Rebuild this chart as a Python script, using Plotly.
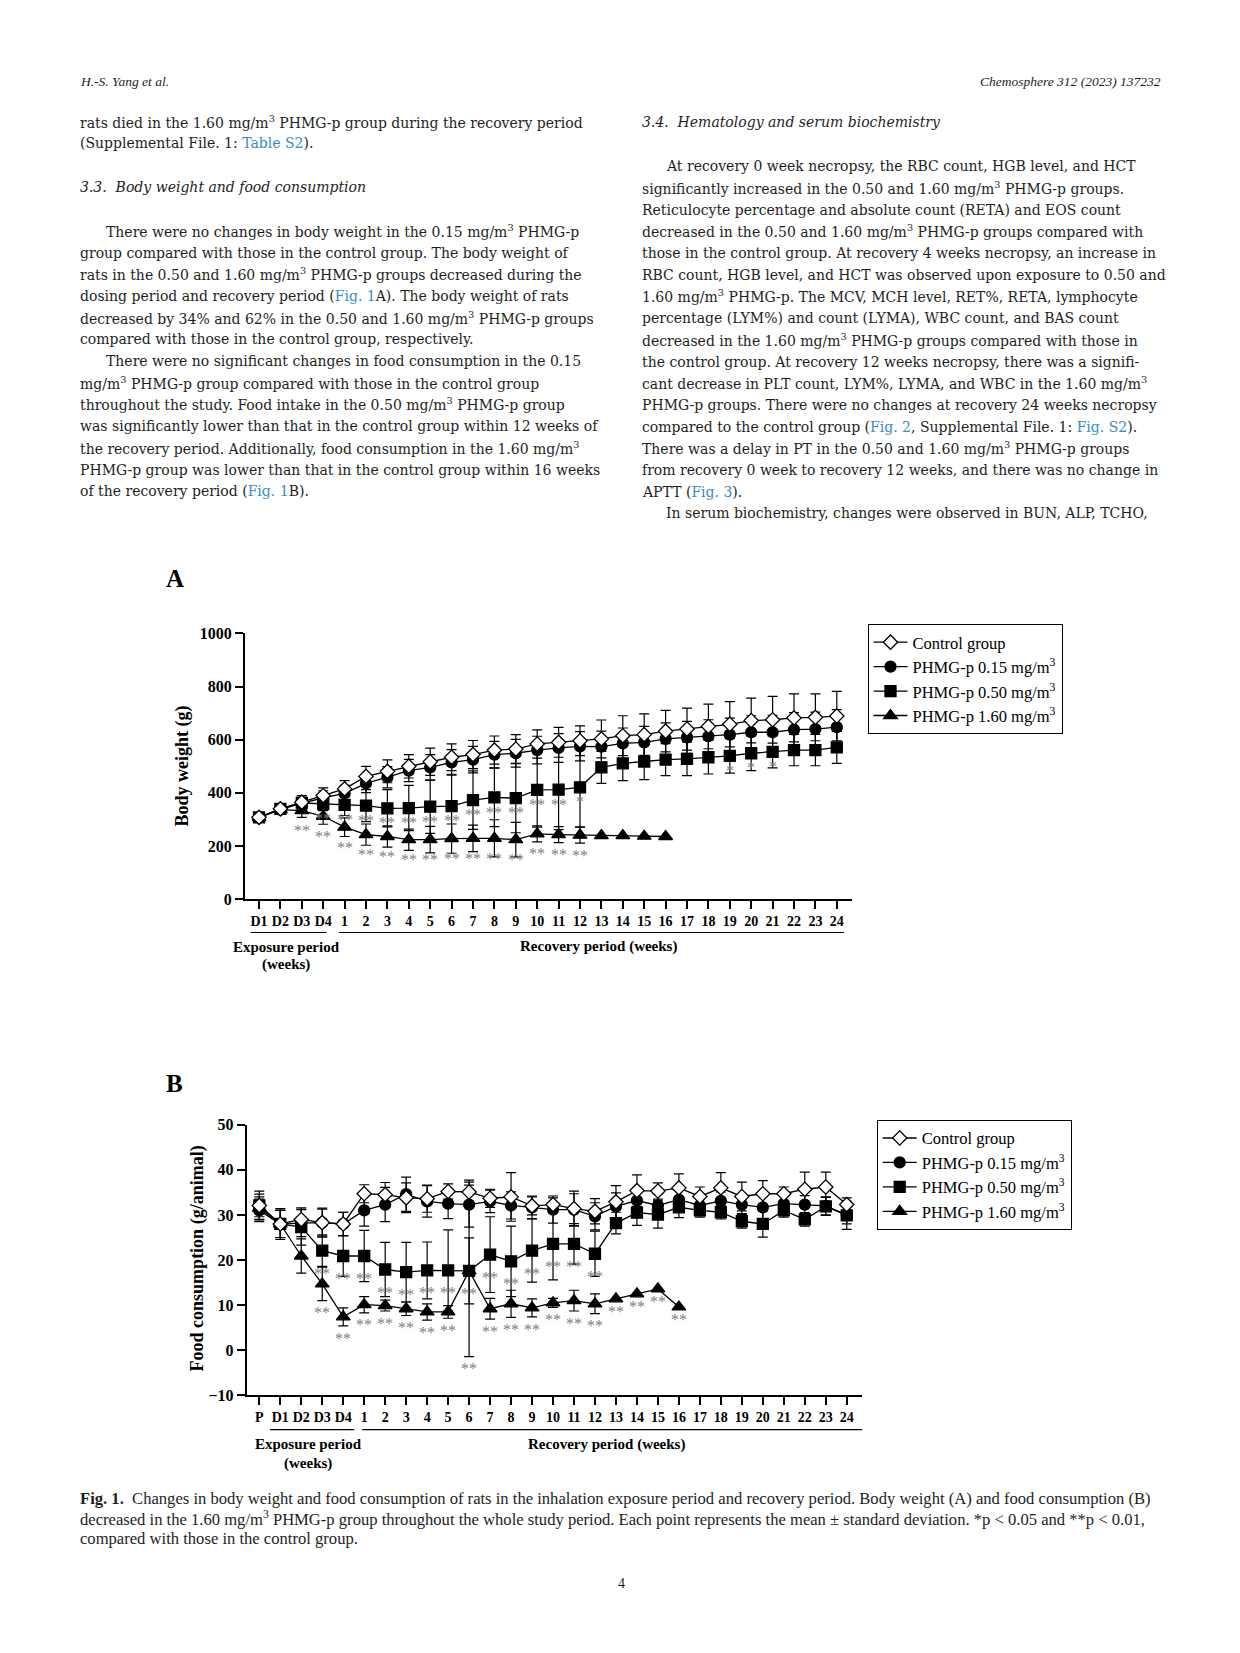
import plotly.graph_objects as go

# page geometry (browser body has an 8px margin)
PAGE_W, PAGE_H = 1240, 1653
OFF = 8
W, H = PAGE_W - 2 * OFF, PAGE_H - 2 * OFF
# measured vertical rendering compensation
YS, YB = 0.99, 7.2

# ---------------- data ----------------
weeks = [str(i) for i in range(1, 25)]
cats_A = ["D1", "D2", "D3", "D4"] + weeks
cats_B = ["P", "D1", "D2", "D3", "D4"] + weeks

# Body weight (g)
bw_control = [308, 340, 365, 390, 415, 462, 481, 500, 517, 534, 544, 561, 565, 584,
              590, 596, 603, 615, 619, 632, 640, 650, 658, 672, 675, 682, 684, 689]
bw_control_sd = [10, 12, 25, 29, 31, 38, 43, 44, 51, 50, 53, 53, 54, 53,
                 56, 56, 71, 75, 78, 78, 79, 84, 85, 84, 88, 90, 88, 93]
bw_015 = [308, 337, 361, 381, 398, 436, 459, 484, 496, 515, 525, 544, 549, 561,
          569, 575, 574, 586, 590, 603, 609, 613, 619, 628, 628, 638, 640, 647]
bw_015_sd = [10, 12, 22, 27, 30, 35, 40, 42, 48, 48, 50, 50, 52, 52,
             54, 55, 58, 58, 60, 60, 60, 62, 62, 62, 64, 64, 64, 66]
bw_050 = [308, 340, 362, 358, 355, 352, 342, 343, 348, 350, 373, 383, 380, 411,
          412, 421, 496, 511, 518, 525, 528, 534, 539, 549, 554, 561, 561, 571]
bw_050_sd = [10, 12, 20, 25, 40, 60, 70, 85, 100, 120, 110, 110, 130, 140,
             150, 150, 60, 65, 68, 60, 63, 63, 65, 65, 60, 59, 59, 60]
bw_160 = [308, 337, 333, 312, 271, 243, 236, 224, 224, 228, 229, 229, 224, 246,
          243, 241, 239, 239, 237, 236, None, None, None, None, None, None, None, None]
bw_160_sd = [10, 12, 25, 30, 35, 40, 40, 40, 50, 55, 50, 70, 65, 30,
             30, 30, 0, 0, 0, 0, 0, 0, 0, 0, 0, 0, 0, 0]
sig_A_050 = ["", "", "", "**", "**", "**", "**", "**", "**", "**", "**", "**", "**", "**",
             "**", "*", "", "", "", "", "", "", "*", "*", "*", "", "", ""]
sig_A_160 = ["", "", "**", "**", "**", "**", "**", "**", "**", "**", "**", "**", "**", "**",
             "**", "**", "", "", "", "", "", "", "", "", "", "", "", ""]

# Food consumption (g/animal)
fc_control = [32.1, 28.0, 29.0, 28.3, 28.0, 34.7, 34.5, 33.8, 33.6, 35.2, 35.1, 33.7, 34.0, 32.0,
              32.3, 31.4, 30.8, 32.9, 35.4, 35.3, 36.0, 34.1, 36.0, 34.1, 34.7, 34.7, 35.7, 36.2, 32.3]
fc_control_sd = [3.2, 3.4, 2.6, 3.2, 2.6, 2.0, 2.7, 3.3, 3.0, 1.7, 2.6, 2.0, 5.4, 2.0,
                 1.5, 3.9, 2.8, 3.6, 3.5, 1.8, 3.1, 2.1, 3.4, 3.2, 2.9, 1.5, 3.8, 3.3, 1.5]
fc_015 = [31.0, 28.0, 28.2, 28.3, 28.0, 31.0, 32.3, 34.6, 33.0, 32.5, 32.3, 33.0, 32.1, 31.7,
          31.2, 31.2, 29.7, 31.9, 33.2, 32.1, 33.4, 32.1, 33.1, 32.3, 31.7, 32.5, 32.3, 32.0, 30.0]
fc_015_sd = [2.5, 3.0, 3.0, 3.0, 2.6, 3.5, 3.8, 3.8, 3.5, 3.3, 5.0, 2.5, 3.0, 2.5,
             3.0, 3.5, 3.0, 3.0, 2.5, 2.5, 2.5, 2.0, 2.0, 2.0, 2.5, 2.0, 2.0, 2.0, 2.0]
fc_050 = [32.1, 28.0, 27.3, 22.1, 20.9, 20.9, 17.9, 17.3, 17.7, 17.7, 17.6, 21.2, 19.7, 22.1,
          23.6, 23.6, 21.4, 28.2, 30.5, 30.1, 31.7, 31.0, 30.6, 28.6, 28.0, 31.0, 29.0, 31.9, 29.9]
fc_050_sd = [2.5, 3.0, 4.0, 3.5, 4.5, 5.7, 6.0, 6.6, 6.3, 9.0, 7.3, 8.4, 7.8, 7.0,
             8.0, 4.5, 5.0, 2.4, 2.8, 3.0, 2.3, 1.5, 1.5, 1.5, 2.9, 1.5, 1.5, 2.0, 3.1]
fc_160 = [31.5, 28.0, 20.9, 14.7, 7.4, 10.1, 9.9, 9.2, 8.5, 8.5, 17.6, 9.2, 10.3, 9.4,
          10.5, 11.0, 10.3, 11.4, 12.5, 13.6, 9.6, None, None, None, None, None, None, None, None]
fc_160_sd = [2.5, 3.0, 3.8, 3.7, 2.0, 1.8, 1.2, 1.5, 1.8, 1.4, 19.0, 2.3, 3.0, 2.0,
             1.0, 2.3, 2.2, 0, 0, 0, 0, 0, 0, 0, 0, 0, 0, 0, 0]
sig_B_050 = ["", "", "", "**", "**", "**", "**", "**", "**", "**", "**", "**", "**", "**",
             "**", "**", "**", "", "", "", "", "", "", "", "", "", "", "", ""]
sig_B_160 = ["", "", "", "**", "**", "**", "**", "**", "**", "**", "**", "**", "**", "**",
             "**", "**", "**", "**", "**", "**", "**", "", "", "", "", "", "", "", ""]

legend_names = ["Control group", "PHMG-p 0.15 mg/m<sup>3</sup>",
                "PHMG-p 0.50 mg/m<sup>3</sup>", "PHMG-p 1.60 mg/m<sup>3</sup>"]

# ---------------- styles ----------------
SERIF = "Liberation Serif"
BODY = "DejaVu Serif"
TXT = "#1e1e1e"
LINK = "#3a8cc4"
SIG_COLOR = "#808080"

fig = go.Figure()


def px_x(p):
    return (p - OFF) / W


def px_y(p):
    s = (p - YB) / YS
    return 1 - (s - OFF) / H


series_style = [
    (3, "triangle-up", "black", 12),
    (2, "square", "black", 11),
    (1, "circle", "black", 11),
    (0, "diamond", "white", 11),
]

idx_A = list(range(len(cats_A)))
idx_B = list(range(len(cats_B)))
A_series = {0: (bw_control, bw_control_sd), 1: (bw_015, bw_015_sd),
            2: (bw_050, bw_050_sd), 3: (bw_160, bw_160_sd)}
B_series = {0: (fc_control, fc_control_sd), 1: (fc_015, fc_015_sd),
            2: (fc_050, fc_050_sd), 3: (fc_160, fc_160_sd)}

for (k, sym, fill, size) in series_style:
    for (xs, ser, xa, ya, lg) in [(idx_A, A_series, "x", "y", "legend"),
                                  (idx_B, B_series, "x2", "y2", "legend2")]:
        vals, sds = ser[k]
        fig.add_trace(go.Scatter(
            x=xs, y=vals, xaxis=xa, yaxis=ya, legend=lg,
            name=legend_names[k], legendrank=k + 1,
            mode="lines+markers",
            line=dict(color="black", width=1.3),
            marker=dict(symbol=sym, size=size, color=fill,
                        line=dict(color="black", width=1.3)),
            error_y=dict(type="data", array=sds, visible=True,
                         color="black", thickness=1.2, width=5),
            cliponaxis=False,
        ))

# significance labels
SIG_FONT = dict(family=SERIF, size=16, color=SIG_COLOR)
for vals, sig, off in [(bw_050, sig_A_050, 55), (bw_160, sig_A_160, 75)]:
    for i, s in enumerate(sig):
        if s and vals[i] is not None:
            fig.add_annotation(x=i, y=vals[i] - off, xref="x", yref="y", text=s,
                               showarrow=False, font=SIG_FONT)
for i, s in enumerate(sig_B_050):
    if s:
        fig.add_annotation(x=i, y=fc_050[i] - 5, xref="x2", yref="y2", text=s,
                           showarrow=False, font=SIG_FONT)
for i, s in enumerate(sig_B_160):
    if s:
        fig.add_annotation(x=i, y=fc_160[i] - fc_160_sd[i] - 2.7, xref="x2", yref="y2", text=s,
                           showarrow=False, font=SIG_FONT)

axis_common = dict(showgrid=False, zeroline=False, showline=True, linecolor="black",
                   linewidth=2, ticks="outside", ticklen=8, tickwidth=2, tickcolor="black")
xtickfont = dict(family=SERIF, size=14, color="black", weight="bold")
ytickfont = dict(family=SERIF, size=16, color="black", weight="bold")

# Chart pixel geometry (page pixels)
A_left, A_right, A_x0, A_dx = 245, 851.7, 259, 21.4
A_top, A_bot = 632.7, 898.7
B_left, B_right, B_x0, B_dx = 246.7, 862.3, 259.3, 20.98
B_top, B_bot = 1124.3, 1395

legend_common = dict(xanchor="left", yanchor="top", bordercolor="black", borderwidth=1,
                     bgcolor="white", font=dict(family=SERIF, size=16.5, color="black"),
                     itemwidth=34, tracegroupgap=0)

fig.update_layout(
    width=W, height=H, autosize=False,
    margin=dict(l=0, r=0, t=0, b=0),
    paper_bgcolor="white", plot_bgcolor="rgba(0,0,0,0)",
    showlegend=True,
    xaxis=dict(axis_common, tickfont=xtickfont, domain=[px_x(A_left), px_x(A_right)],
               range=[(A_left - A_x0) / A_dx, (A_right - A_x0) / A_dx],
               tickvals=idx_A, ticktext=cats_A, anchor="y"),
    yaxis=dict(axis_common, tickfont=ytickfont, domain=[px_y(A_bot), px_y(A_top)],
               range=[0, 1000], tickvals=[0, 200, 400, 600, 800, 1000], anchor="x"),
    xaxis2=dict(axis_common, tickfont=xtickfont, domain=[px_x(B_left), px_x(B_right)],
                range=[(B_left - B_x0) / B_dx, (B_right - B_x0) / B_dx],
                tickvals=idx_B, ticktext=cats_B, anchor="y2"),
    yaxis2=dict(axis_common, tickfont=ytickfont, domain=[px_y(B_bot), px_y(B_top)],
                range=[-10, 50], tickvals=[-10, 0, 10, 20, 30, 40, 50], anchor="x2"),
    legend=dict(legend_common, x=px_x(867.5), y=px_y(623.3)),
    legend2=dict(legend_common, x=px_x(876.7), y=px_y(1119.3)),
)

# period underlines
for xr, a, b, py in [("x", -0.39, 3.16, 932), ("x", 3.74, 27.34, 932),
                     ("x2", 0.51, 4.53, 1429.3), ("x2", 4.90, 28.77, 1429.3)]:
    fig.add_shape(type="line", xref=xr, yref="paper", x0=a, x1=b, y0=px_y(py), y1=px_y(py),
                  line=dict(color="black", width=1.2))


def ann(text, px, py, size=14, family=BODY, xanchor="left", color=TXT, **kw):
    fig.add_annotation(text=text, x=px_x(px), y=px_y(py), xref="paper", yref="paper",
                       xanchor=xanchor, yanchor="middle", showarrow=False,
                       font=dict(size=size, family=family, color=color), **kw)


# chart labels
ann("<b>A</b>", 175, 578, size=25, family=SERIF, xanchor="center", color="black")
ann("<b>B</b>", 175, 1083, size=25, family=SERIF, xanchor="center", color="black")
ann("<b>Body weight (g)</b>", 183, 766, size=18, family=SERIF, xanchor="center",
    color="black", textangle=-90)
ann("<b>Food consumption (g/animal)</b>", 197, 1258, size=18, family=SERIF,
    xanchor="center", color="black", textangle=-90)
ann("<b>Exposure period</b>", 286, 946, size=15, family=SERIF, xanchor="center", color="black")
ann("<b>(weeks)</b>", 286, 964, size=15, family=SERIF, xanchor="center", color="black")
ann("<b>Recovery period (weeks)</b>", 598, 946, size=15, family=SERIF, xanchor="center", color="black")
ann("<b>Exposure period</b>", 308, 1444, size=15, family=SERIF, xanchor="center", color="black")
ann("<b>(weeks)</b>", 308, 1463, size=15, family=SERIF, xanchor="center", color="black")
ann("<b>Recovery period (weeks)</b>", 606, 1444, size=15, family=SERIF, xanchor="center", color="black")

# page header
ann("<i>H.-S. Yang et al.</i>", 78, 81, size=13.5, family=SERIF)
ann("<i>Chemosphere 312 (2023) 137232</i>", 1163, 81, size=13.5, family=SERIF, xanchor="right")


def link(t):
    return "<span style='color:%s'>%s</span>" % (LINK, t)


M3 = "mg/m<sup>3</sup>"
LX, LI = 78, 104
RX, RI = 640, 664
left_lines = [
    (LX, 121.3, "rats died in the 1.60 %s PHMG-p group during the recovery period" % M3),
    (LX, 142.5, "(Supplemental File. 1: %s)." % link("Table S2")),
    (LX, 186.6, "<i>3.3.  Body weight and food consumption</i>"),
    (LI, 230.0, "There were no changes in body weight in the 0.15 %s PHMG-p" % M3),
    (LX, 251.8, "group compared with those in the control group. The body weight of"),
    (LX, 273.5, "rats in the 0.50 and 1.60 %s PHMG-p groups decreased during the" % M3),
    (LX, 295.2, "dosing period and recovery period (%sA). The body weight of rats" % link("Fig. 1")),
    (LX, 316.9, "decreased by 34% and 62% in the 0.50 and 1.60 " + M3 + " PHMG-p groups"),
    (LX, 338.6, "compared with those in the control group, respectively."),
    (LI, 360.3, "There were no significant changes in food consumption in the 0.15"),
    (LX, 382.0, M3 + " PHMG-p group compared with those in the control group"),
    (LX, 403.7, "throughout the study. Food intake in the 0.50 %s PHMG-p group" % M3),
    (LX, 425.4, "was significantly lower than that in the control group within 12 weeks of"),
    (LX, 447.1, "the recovery period. Additionally, food consumption in the 1.60 " + M3),
    (LX, 468.8, "PHMG-p group was lower than that in the control group within 16 weeks"),
    (LX, 490.5, "of the recovery period (%sB)." % link("Fig. 1")),
]
right_lines = [
    (RX, 121.3, "<i>3.4.  Hematology and serum biochemistry</i>"),
    (RI, 165.5, "At recovery 0 week necropsy, the RBC count, HGB level, and HCT"),
    (RX, 187.2, "significantly increased in the 0.50 and 1.60 %s PHMG-p groups." % M3),
    (RX, 208.9, "Reticulocyte percentage and absolute count (RETA) and EOS count"),
    (RX, 230.6, "decreased in the 0.50 and 1.60 %s PHMG-p groups compared with" % M3),
    (RX, 252.3, "those in the control group. At recovery 4 weeks necropsy, an increase in"),
    (RX, 274.0, "RBC count, HGB level, and HCT was observed upon exposure to 0.50 and"),
    (RX, 295.7, "1.60 %s PHMG-p. The MCV, MCH level, RET%%, RETA, lymphocyte" % M3),
    (RX, 317.4, "percentage (LYM%) and count (LYMA), WBC count, and BAS count"),
    (RX, 339.1, "decreased in the 1.60 %s PHMG-p groups compared with those in" % M3),
    (RX, 360.8, "the control group. At recovery 12 weeks necropsy, there was a signifi-"),
    (RX, 382.5, "cant decrease in PLT count, LYM%, LYMA, and WBC in the 1.60 " + M3),
    (RX, 404.2, "PHMG-p groups. There were no changes at recovery 24 weeks necropsy"),
    (RX, 425.9, "compared to the control group (%s, Supplemental File. 1: %s)." % (link("Fig. 2"), link("Fig. S2"))),
    (RX, 447.6, "There was a delay in PT in the 0.50 and 1.60 %s PHMG-p groups" % M3),
    (RX, 469.3, "from recovery 0 week to recovery 12 weeks, and there was no change in"),
    (RX, 491.0, "APTT (%s)." % link("Fig. 3")),
    (RI, 512.7, "In serum biochemistry, changes were observed in BUN, ALP, TCHO,"),
]
for x, y, t in left_lines + right_lines:
    ann(t, x, y, size=14)

caption = [
    (78, 1498, "<b>Fig. 1.</b>  Changes in body weight and food consumption of rats in the inhalation exposure period and recovery period. Body weight (A) and food consumption (B)"),
    (78, 1518, "decreased in the 1.60 %s PHMG-p group throughout the whole study period. Each point represents the mean \u00b1 standard deviation. *p &lt; 0.05 and **p &lt; 0.01," % M3),
    (78, 1538, "compared with those in the control group."),
]
for x, y, t in caption:
    ann(t, x, y, size=16.6, family=SERIF)
ann("4", 621, 1583, size=14, family=SERIF, xanchor="center")

fig.write_html("out.html")
